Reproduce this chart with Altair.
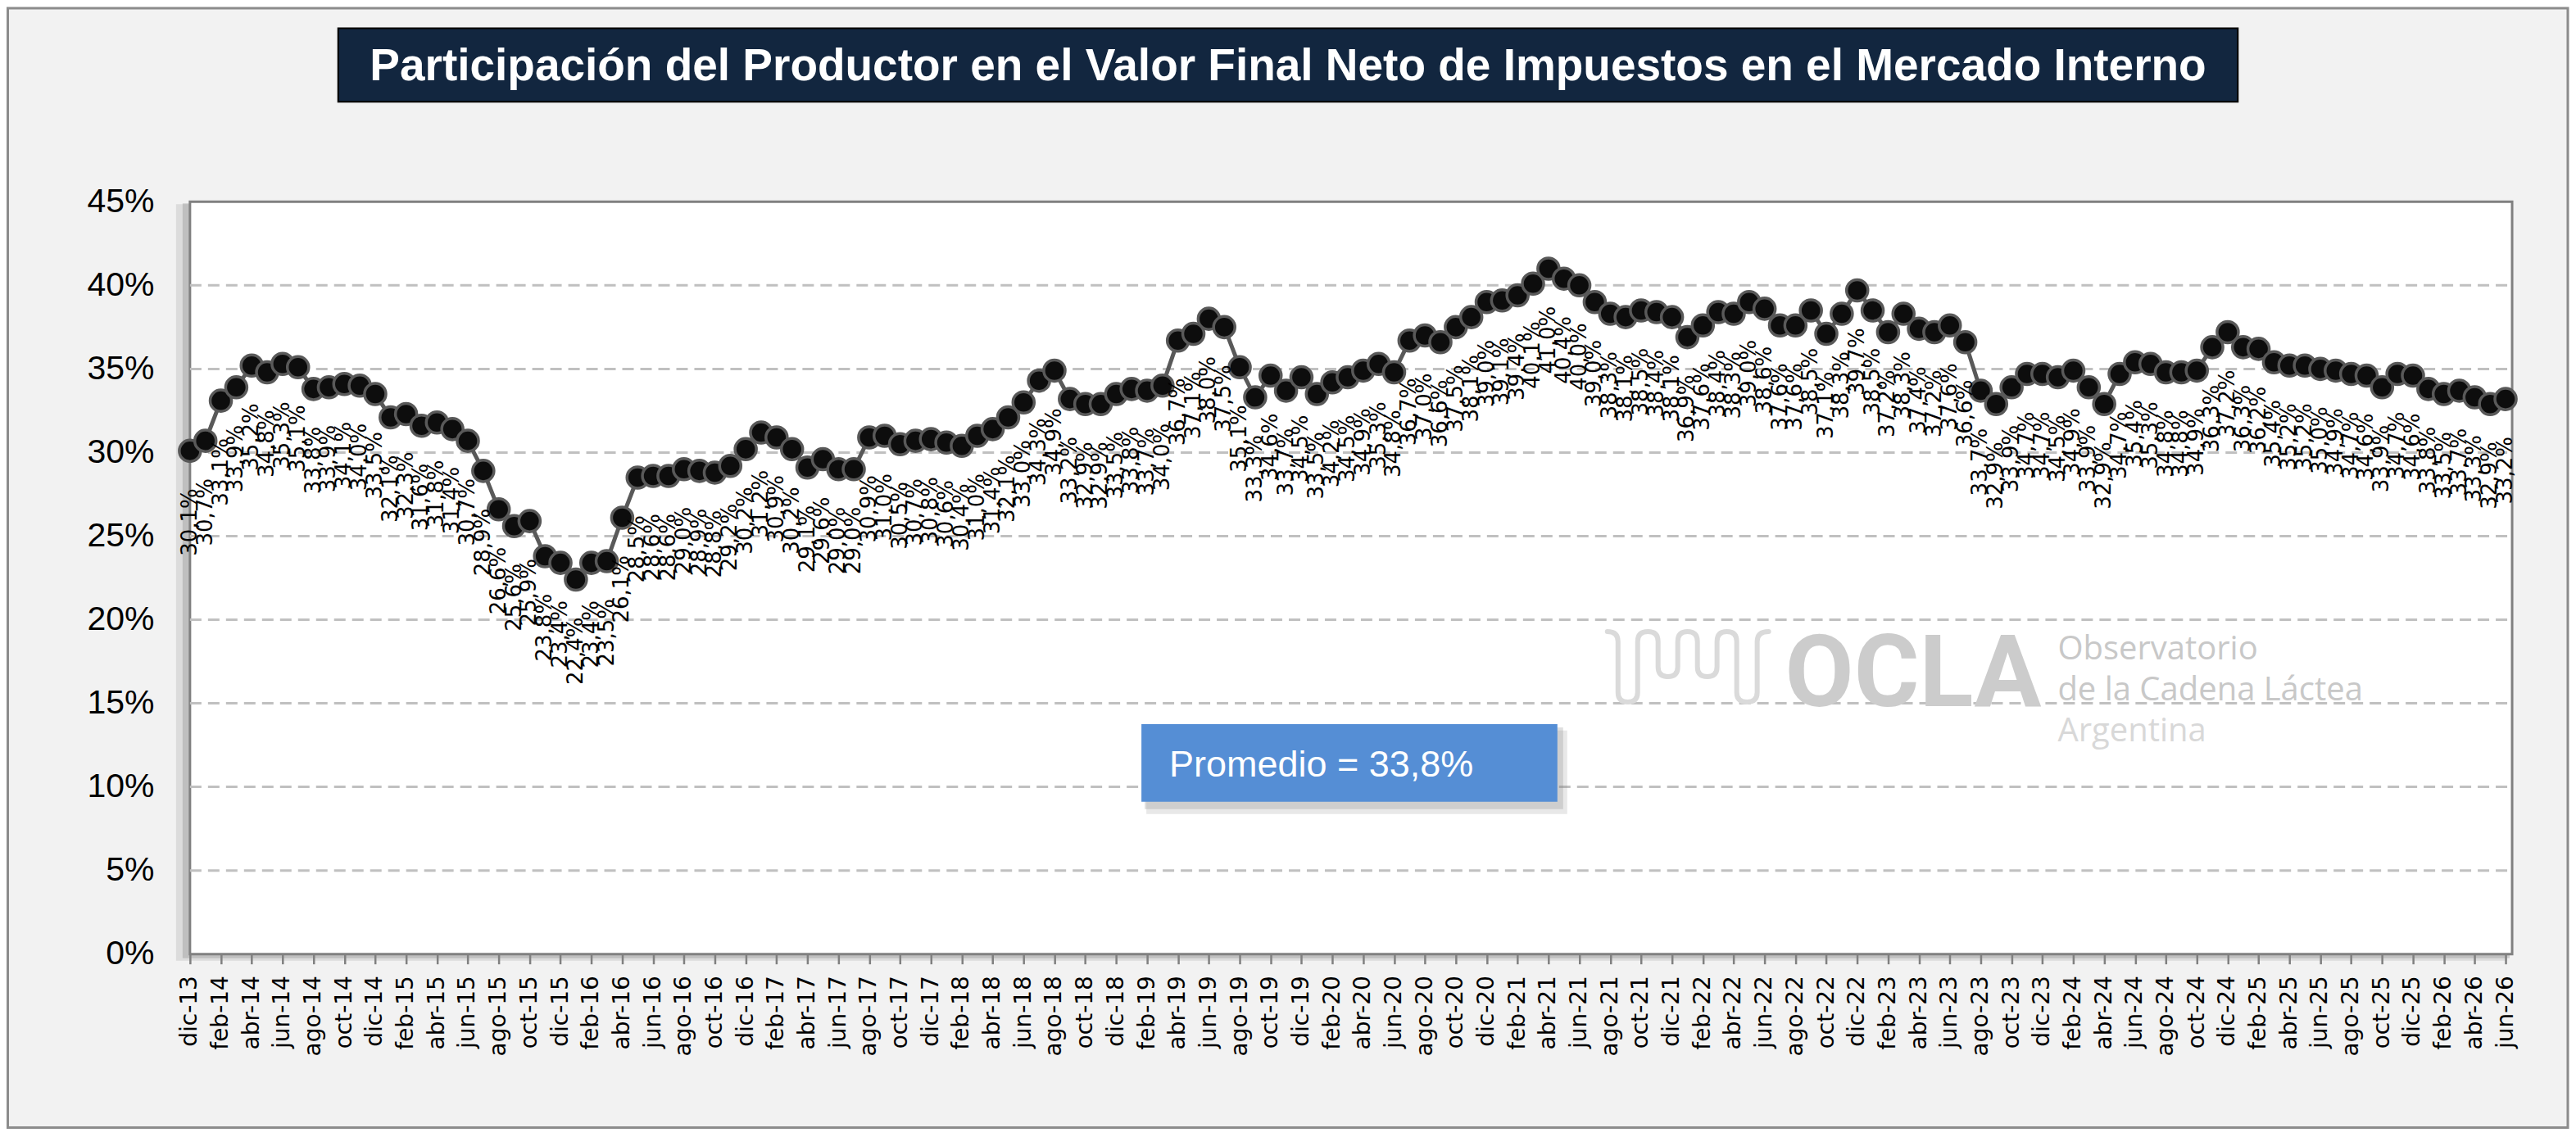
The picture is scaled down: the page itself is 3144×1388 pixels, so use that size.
import json
import altair as alt
import pandas as pd

# ---------------- data ----------------
abbr = ["ene", "feb", "mar", "abr", "may", "jun", "jul", "ago", "sep", "oct", "nov", "dic"]
meses = [f"{abbr[(11 + k) % 12]}-{13 + (11 + k) // 12:02d}" for k in range(151)]

valores = [
    30.1, 30.7, 33.1, 33.9, 35.2, 34.8, 35.3, 35.1, 33.8, 33.9, 34.1, 34.0,   # dic-13 .. nov-14
    33.5, 32.1, 32.3, 31.6, 31.8, 31.4, 30.7, 28.9, 26.6, 25.6, 25.9, 23.8,   # dic-14 .. nov-15
    23.4, 22.4, 23.4, 23.5, 26.1, 28.5, 28.6, 28.6, 29.0, 28.9, 28.8, 29.2,   # dic-15 .. nov-16
    30.2, 31.2, 30.9, 30.2, 29.1, 29.6, 29.0, 29.0, 30.9, 31.0, 30.5, 30.7,   # dic-16 .. nov-17
    30.8, 30.6, 30.4, 31.0, 31.4, 32.1, 33.0, 34.3, 34.9, 33.2, 32.9, 32.9,   # dic-17 .. nov-18
    33.5, 33.8, 33.7, 34.0, 36.7, 37.1, 38.0, 37.5, 35.1, 33.3, 34.6, 33.7,   # dic-18 .. nov-19
    34.5, 33.5, 34.2, 34.5, 34.9, 35.3, 34.8, 36.7, 37.0, 36.6, 37.5, 38.1,   # dic-19 .. nov-20
    39.0, 39.1, 39.4, 40.1, 41.0, 40.4, 40.0, 39.0, 38.3, 38.1, 38.5, 38.4,   # dic-20 .. nov-21
    38.1, 36.9, 37.6, 38.4, 38.3, 39.0, 38.6, 37.6, 37.6, 38.5, 37.1, 38.3,   # dic-21 .. nov-22
    39.7, 38.5, 37.2, 38.3, 37.4, 37.2, 37.6, 36.6, 33.7, 32.9, 33.9, 34.7,   # dic-22 .. nov-23
    34.7, 34.5, 34.9, 33.9, 32.9, 34.7, 35.4, 35.3, 34.8, 34.8, 34.9, 36.3,   # dic-23 .. nov-24
    37.2, 36.3, 36.2, 35.4, 35.2, 35.2, 35.0, 34.9, 34.7, 34.6, 33.9, 34.7,   # dic-24 .. nov-25
    34.6, 33.8, 33.5, 33.7, 33.3, 32.9, 33.2,                                 # dic-25 .. jun-26
]
y_ticks = [0, 0.05, 0.10, 0.15, 0.20, 0.25, 0.30, 0.35, 0.40, 0.45]
grid_vals = [0.05, 0.10, 0.15, 0.20, 0.25, 0.30, 0.35, 0.40]

titulo = "Participación del Productor en el Valor Final Neto de Impuestos en el Mercado Interno"
promedio = "Promedio = 33,8%"

# ---------------- layout ----------------
W, H = 2836, 919
SANS = "Liberation Sans, Arial, sans-serif"

df = pd.DataFrame({
    "i": list(range(len(valores))),
    "mes": meses,
    "v": [x / 100 for x in valores],
    "lab": [f"{x:.1f}".replace(".", ",") + "%" for x in valores],
})
grid_df = pd.DataFrame({"v": grid_vals})
one = pd.DataFrame({"k": [0]})

xs = alt.Scale(domain=[0, 150 * W / (W - 8)], nice=False, zero=False)
ys = alt.Scale(domain=[0, 0.45], nice=False, zero=True)

x_axis = alt.Axis(
    values=list(range(0, 151, 2)),
    labelExpr=json.dumps(meses) + "[datum.value]",
    labelAngle=270, labelFont="DejaVu Sans", labelFontSize=28, labelColor="#000000",
    labelPadding=14, labelOverlap=False, labelFlush=False, labelBound=False,
    tickSize=12, tickColor="#808080", tickWidth=2.5,
    domain=False, grid=False, title=None, zindex=1,
)
y_axis = alt.Axis(
    values=y_ticks, format=".0%", labelFont=SANS, labelFontSize=41,
    labelColor="#000000", labelPadding=44, ticks=False, domain=False,
    grid=False, title=None, zindex=1, labelFlush=False,
)

X = alt.X("i:Q", scale=xs, axis=x_axis)
Y = alt.Y("v:Q", scale=ys, axis=y_axis)

outer = alt.Chart(one).mark_rect(fill="#f2f2f2", stroke="#8c8c8c", strokeWidth=3).encode(
    x=alt.value(-222.5), x2=alt.value(2904), y=alt.value(-236.5), y2=alt.value(1131))

title_box = alt.Chart(one).mark_rect(fill="#12263f", stroke="#000000", strokeWidth=2).encode(
    x=alt.value(181), x2=alt.value(2501), y=alt.value(-212), y2=alt.value(-122))
title_txt = alt.Chart(one).mark_text(
    text=titulo, font=SANS, fontSize=55, fontWeight="bold", color="#ffffff",
    align="center", baseline="alphabetic").encode(x=alt.value(1341), y=alt.value(-148))

shadow1 = alt.Chart(one).mark_rect(fill="#9a9a9a", opacity=0.25).encode(
    x=alt.value(-17), x2=alt.value(W - 6), y=alt.value(3), y2=alt.value(H + 8))
shadow2 = alt.Chart(one).mark_rect(fill="#8a8a8a", opacity=0.35).encode(
    x=alt.value(-9), x2=alt.value(W - 3), y=alt.value(2), y2=alt.value(H + 5))
plot_bg = alt.Chart(one).mark_rect(fill="#ffffff", stroke="#808080", strokeWidth=3).encode(
    x=alt.value(0), x2=alt.value(W), y=alt.value(0), y2=alt.value(H))

grid = alt.Chart(grid_df).mark_rule(color="#c0c0c0", strokeWidth=3, strokeDash=[14, 8]).encode(
    y=Y, x=alt.value(0), x2=alt.value(W))

# watermark logo
wave_path = (
    "M -1 -0.437 Q -0.868 -0.437 -0.868 -0.315 L -0.868 0.315 "
    "Q -0.868 0.437 -0.746 0.437 Q -0.624 0.437 -0.624 0.315 L -0.624 -0.315 "
    "Q -0.624 -0.437 -0.497 -0.437 Q -0.371 -0.437 -0.371 -0.315 L -0.371 0.0 "
    "Q -0.371 0.122 -0.249 0.122 Q -0.127 0.122 -0.127 0.0 L -0.127 -0.315 "
    "Q -0.127 -0.437 -0.005 -0.437 Q 0.117 -0.437 0.117 -0.315 L 0.117 0.0 "
    "Q 0.117 0.122 0.239 0.122 Q 0.360 0.122 0.360 0.0 L 0.360 -0.315 "
    "Q 0.360 -0.437 0.482 -0.437 Q 0.604 -0.437 0.604 -0.315 L 0.604 0.315 "
    "Q 0.604 0.437 0.731 0.437 Q 0.858 0.437 0.858 0.315 L 0.858 -0.315 "
    "Q 0.858 -0.437 1.0 -0.437"
)
wave = alt.Chart(one).mark_point(
    shape=wave_path, filled=False, stroke="#dadada", strokeWidth=6, size=197 ** 2,
    opacity=1, strokeCap="round", strokeJoin="round").encode(x=alt.value(1829.5), y=alt.value(568))
ocla = alt.Chart(one).mark_text(
    text="OCLA", font="Roboto", fontWeight="bold", fontSize=122, color="#cccccc",
    align="left", baseline="alphabetic").encode(x=alt.value(1948), y=alt.value(616))
obs1 = alt.Chart(one).mark_text(
    text="Observatorio", font="Open Sans", fontSize=40, color="#c8c8c8",
    align="left", baseline="alphabetic").encode(x=alt.value(2281), y=alt.value(559))
obs2 = alt.Chart(one).mark_text(
    text="de la Cadena Láctea", font="Open Sans", fontSize=40, color="#c8c8c8",
    align="left", baseline="alphabetic").encode(x=alt.value(2281), y=alt.value(609))
obs3 = alt.Chart(one).mark_text(
    text="Argentina", font="Open Sans", fontSize=40, color="#d8d8d8",
    align="left", baseline="alphabetic").encode(x=alt.value(2281), y=alt.value(659))

base = alt.Chart(df)
line = base.mark_line(color="#595959", strokeWidth=5).encode(x=X, y=Y)
pts = base.mark_point(filled=True, fill="#0d0d0d", stroke="#595959", strokeWidth=3.5,
                      size=680, opacity=1).encode(x=X, y=Y)
labels = base.mark_text(angle=270, align="right", baseline="middle", dx=-46,
                        font="DejaVu Sans", fontSize=26, color="#000000").encode(
    x=X, y=Y, text="lab:N")

prom_sh1 = alt.Chart(one).mark_rect(fill="#7f7f7f", opacity=0.18).encode(
    x=alt.value(1168), x2=alt.value(1682), y=alt.value(646), y2=alt.value(748))
prom_sh2 = alt.Chart(one).mark_rect(fill="#7f7f7f", opacity=0.25).encode(
    x=alt.value(1166), x2=alt.value(1677), y=alt.value(642), y2=alt.value(742))
prom_box = alt.Chart(one).mark_rect(fill="#558ed5").encode(
    x=alt.value(1162), x2=alt.value(1670), y=alt.value(638), y2=alt.value(733))
prom_txt = alt.Chart(one).mark_text(
    text=promedio, font=SANS, fontSize=45, color="#ffffff",
    align="left", baseline="alphabetic").encode(x=alt.value(1196), y=alt.value(702))

chart = alt.layer(
    outer, title_box, title_txt, shadow1, shadow2, plot_bg, grid,
    wave, ocla, obs1, obs2, obs3,
    line, pts, labels,
    prom_sh1, prom_sh2, prom_box, prom_txt,
).properties(
    width=W, height=H, padding=0, background="#ffffff"
).configure_view(stroke=None, fill=None)

chart.save("out.html", embed_options={"renderer": "svg", "actions": False})
